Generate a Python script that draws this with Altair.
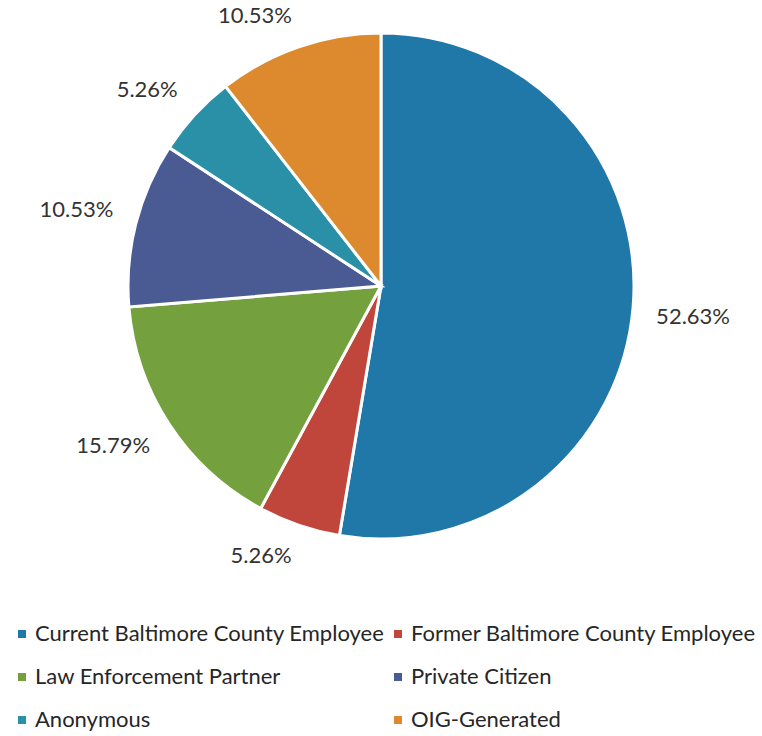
import altair as alt
import pandas as pd

categories = ["Current Baltimore County Employee", "Former Baltimore County Employee",
              "Law Enforcement Partner", "Private Citizen", "Anonymous", "OIG-Generated"]
values = [52.63, 5.26, 15.79, 10.53, 5.26, 10.53]
labels = ["52.63%", "5.26%", "15.79%", "10.53%", "5.26%", "10.53%"]
colors = ["#1f78a8", "#c0463c", "#74a03e", "#4a5a92", "#2a90a8", "#dd8a2e"]

df = pd.DataFrame({"category": categories, "value": values, "label": labels,
                   "order": list(range(len(categories)))})

FONT = "Lato"
CX, CY, R = 381, 286, 253

arcs = alt.Chart(df).mark_arc(stroke="white", strokeWidth=3, outerRadius=R).encode(
    theta=alt.Theta("value:Q", stack=True),
    order=alt.Order("order:Q"),
    x=alt.value(CX), y=alt.value(CY),
    color=alt.Color("category:N",
                    scale=alt.Scale(domain=categories, range=colors),
                    sort=categories,
                    legend=alt.Legend(title=None, orient="none", legendX=11, legendY=623,
                                      direction="horizontal",
                                      columns=2, columnPadding=2, rowPadding=21,
                                      symbolType="square", symbolSize=64,
                                      symbolStrokeWidth=0, labelFont=FONT,
                                      labelFontSize=22, labelColor="#262626",
                                      labelOffset=2,
                                      labelLimit=500, symbolOffset=0)),
)

# label box placed outside the slice's mid-angle point, offset into that quadrant by half its size
texts = alt.Chart(df).transform_window(
    cum="sum(value)", sort=[alt.SortField("order", order="ascending")], frame=[None, 0]
).transform_joinaggregate(
    total="sum(value)"
).transform_calculate(
    mid="(datum.cum - datum.value / 2) / datum.total * 2 * PI",
).transform_calculate(
    px=f"{CX} + {R + 24} * sin(datum.mid) + (sin(datum.mid) >= 0 ? 1 : -1) * length(datum.label) * 6",
    py=f"{CY} - {R + 24} * cos(datum.mid) - (cos(datum.mid) >= 0 ? 1 : -1) * 8",
).mark_text(font=FONT, fontSize=22, color="#333333").encode(
    x=alt.X("px:Q", scale=None, axis=None),
    y=alt.Y("py:Q", scale=None, axis=None),
    text="label:N",
)

chart = alt.layer(arcs, texts).properties(
    width=762, height=736, autosize=alt.AutoSizeParams(type="none"), padding=0
).configure_view(stroke=None)

chart.save("out.html", embed_options={"renderer": "svg", "actions": False})
